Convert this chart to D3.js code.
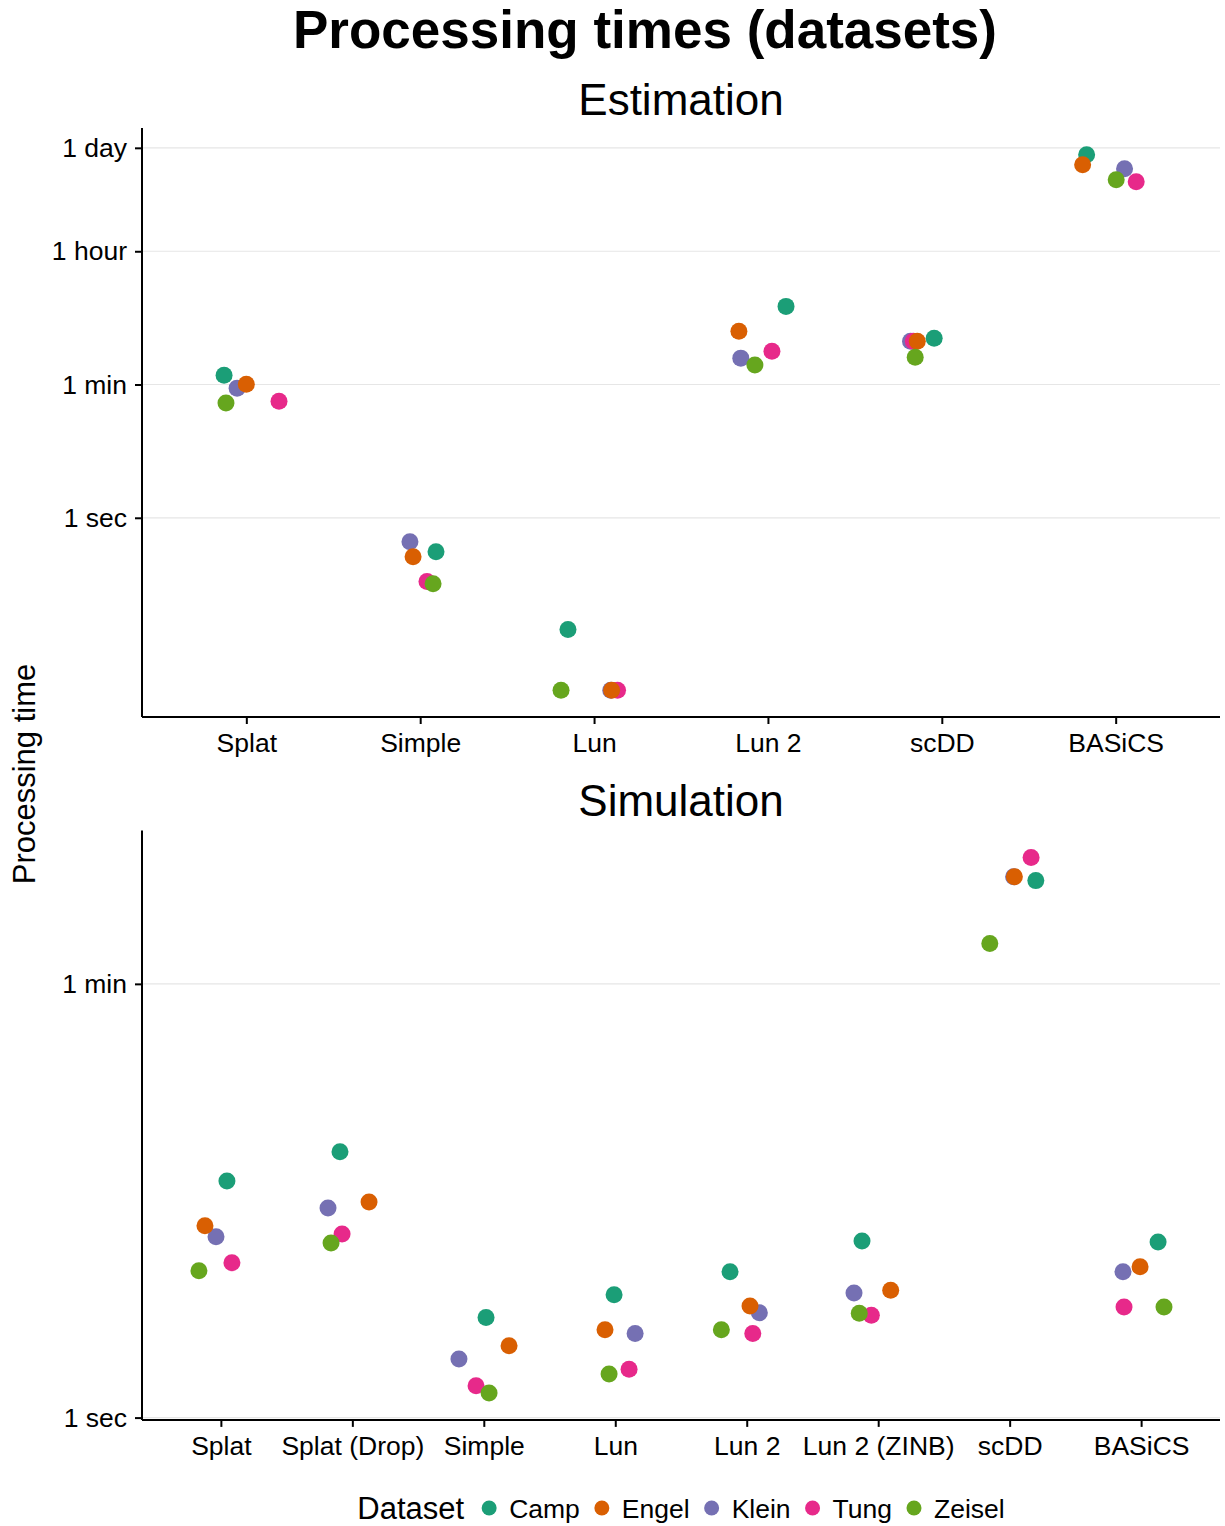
<!DOCTYPE html>
<html>
<head>
<meta charset="utf-8">
<script src="https://cdn.jsdelivr.net/npm/d3@7"></script>
<style>
  html, body { margin: 0; padding: 0; background: #fff; }
  svg { display: block; font-family: "Liberation Sans", Arial, Helvetica, sans-serif; }
</style>
</head>
<body>
<svg id="chart" width="1225" height="1526"></svg>
<script>
// Datasets and Dark2 colours
const datasets = ["Camp", "Engel", "Klein", "Tung", "Zeisel"];
const datasetColors = ["#1B9E77", "#D95F02", "#7570B3", "#E7298A", "#66A61E"];
// Order in which points are layered
const drawOrder = ["Camp", "Klein", "Tung", "Engel", "Zeisel"];

// Estimation: tools and processing times in seconds (per dataset, tool order)
const estTools = ["Splat", "Simple", "Lun", "Lun 2", "scDD", "BASiCS"];
const estTimes = {
  Camp:   [80,   0.353, 0.0323, 662, 248, 69800],
  Engel:  [60.5, 0.303, 0.005,  308, 227, 51400],
  Klein:  [53.7, 0.48,  0.005,  135, 227, 45400],
  Tung:   [36,   0.141, 0.005,  167, 227, 30500],
  Zeisel: [33.9, 0.132, 0.005,  109, 139, 32400]
};
// Horizontal jitter, in category steps
const estJitter = {
  Camp:   [-0.128,  0.091, -0.150,  0.104, -0.044, -0.167],
  Engel:  [ 0.000, -0.041,  0.101, -0.167, -0.141, -0.190],
  Klein:  [-0.053, -0.059,  0.096, -0.156, -0.180,  0.051],
  Tung:   [ 0.188,  0.039,  0.135,  0.023, -0.164,  0.118],
  Zeisel: [-0.117,  0.074, -0.190, -0.075, -0.153,  0.003]
};

// Simulation: tools and processing times in seconds
const simTools = ["Splat", "Splat (Drop)", "Simple", "Lun", "Lun 2", "Lun 2 (ZINB)", "scDD", "BASiCS"];
const simTimes = {
  Camp:   [9.34, 12.3, 2.57, 3.19, 3.96, 5.30, 159, 5.25],
  Engel:  [6.11, 7.66, 1.97, 2.29, 2.87, 3.33, 165, 4.15],
  Klein:  [5.51, 7.24, 1.74, 2.21, 2.69, 3.24, 165, 3.96],
  Tung:   [4.31, 5.66, 1.35, 1.58, 2.21, 2.63, 198, 2.84],
  Zeisel: [4.00, 5.20, 1.26, 1.51, 2.29, 2.68, 87.8, 2.84]
};
const simJitter = {
  Camp:   [ 0.046, -0.094,  0.017, -0.009, -0.127, -0.123,  0.199,  0.129],
  Engel:  [-0.121,  0.127,  0.192, -0.078,  0.025,  0.095,  0.036, -0.008],
  Klein:  [-0.037, -0.185, -0.189,  0.151,  0.096, -0.184,  0.030, -0.138],
  Tung:   [ 0.084, -0.078, -0.059,  0.105,  0.046, -0.052,  0.163, -0.130],
  Zeisel: [-0.167, -0.162,  0.040, -0.047, -0.193, -0.144, -0.151,  0.174]
};

// Y axis breaks
const estTickValues = [1, 60, 3600, 86400];
const estTickLabels = ["1 sec", "1 min", "1 hour", "1 day"];
const simTickValues = [1, 60];
const simTickLabels = ["1 sec", "1 min"];

const svg = d3.select("#chart");
const color = d3.scaleOrdinal().domain(datasets).range(datasetColors);

const left = 142, right = 1220;

svg.append("text")
  .attr("x", 645).attr("y", 48)
  .attr("text-anchor", "middle")
  .attr("font-size", 53).attr("font-weight", "bold")
  .text("Processing times (datasets)");

svg.append("text")
  .attr("transform", "translate(35,774) rotate(-90)")
  .attr("text-anchor", "middle")
  .attr("font-size", 31)
  .text("Processing time");

function panel(opts) {
  const { title, tools, times, jitter, tickValues, tickLabels, top, bottom, titleY } = opts;
  const g = svg.append("g");

  // log domain with 5% expansion on each side
  const all = datasets.flatMap(d => times[d]);
  const lo = Math.log10(d3.min(all)), hi = Math.log10(d3.max(all));
  const pad = (hi - lo) * 0.05;
  const y = d3.scaleLog().domain([10 ** (lo - pad), 10 ** (hi + pad)]).range([bottom, top]);
  const x = d3.scalePoint().domain(tools).range([left, right]).padding(0.6);

  g.append("text")
    .attr("x", (left + right) / 2).attr("y", titleY)
    .attr("text-anchor", "middle")
    .attr("font-size", 44)
    .text(title);

  // horizontal grid
  g.append("g").selectAll("line").data(tickValues).join("line")
    .attr("x1", left).attr("x2", right)
    .attr("y1", d => y(d)).attr("y2", d => y(d))
    .attr("stroke", "#e6e6e6").attr("stroke-width", 1.2);

  // points
  const pts = [];
  drawOrder.forEach(ds => {
    tools.forEach((t, i) => {
      const v = times[ds][i];
      if (v != null) pts.push({ ds, tool: t, v, j: jitter[ds][i] });
    });
  });
  g.append("g").selectAll("circle").data(pts).join("circle")
    .attr("cx", d => x(d.tool) + d.j * x.step())
    .attr("cy", d => y(d.v))
    .attr("r", 8.5)
    .attr("fill", d => color(d.ds));

  // axes
  const yAxis = d3.axisLeft(y)
    .tickValues(tickValues)
    .tickFormat((d, i) => tickLabels[i])
    .tickSize(7).tickPadding(8).tickSizeOuter(0);
  const ya = g.append("g").attr("transform", `translate(${left},0)`).call(yAxis);
  ya.select(".domain").attr("d", `M0,${top}V${bottom}`);

  const xAxis = d3.axisBottom(x).tickSize(7).tickPadding(9).tickSizeOuter(0);
  const xa = g.append("g").attr("transform", `translate(0,${bottom})`).call(xAxis);
  xa.select(".domain").attr("d", `M${left},0H${right}`);

  [ya, xa].forEach(a => {
    a.select(".domain").attr("stroke", "#000").attr("stroke-width", 2);
    a.selectAll(".tick line").attr("stroke", "#000").attr("stroke-width", 2);
    a.selectAll(".tick text").attr("font-size", 26.5).attr("fill", "#000")
      .attr("font-family", "'Liberation Sans', Arial, Helvetica, sans-serif");
  });
}

panel({
  title: "Estimation", tools: estTools, times: estTimes, jitter: estJitter,
  tickValues: estTickValues, tickLabels: estTickLabels,
  top: 128, bottom: 717, titleY: 115
});
panel({
  title: "Simulation", tools: simTools, times: simTimes, jitter: simJitter,
  tickValues: simTickValues, tickLabels: simTickLabels,
  top: 830.6, bottom: 1419.9, titleY: 816
});

// legend, laid out left to right and centred under the panels
const lg = svg.append("g");
const legY = 1508;
const lt = lg.append("text").attr("y", legY + 11).attr("font-size", 31).text("Dataset");
let cx = lt.node().getComputedTextLength() + 25;
datasets.forEach(ds => {
  lg.append("circle").attr("cx", cx).attr("cy", legY).attr("r", 7.5).attr("fill", color(ds));
  const t = lg.append("text").attr("x", cx + 20).attr("y", legY + 9.5).attr("font-size", 26.5).text(ds);
  cx += 20 + t.node().getComputedTextLength() + 22;
});
const legW = cx - 22;
lg.attr("transform", `translate(${(left + right) / 2 - legW / 2},0)`);
</script>
</body>
</html>
